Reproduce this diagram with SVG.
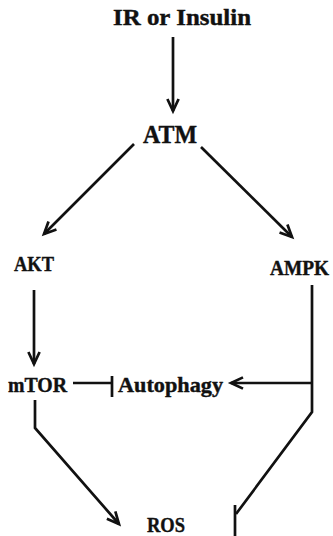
<svg xmlns="http://www.w3.org/2000/svg" width="333" height="536" viewBox="0 0 333 536">
<style>
text{font-family:"Liberation Serif","Times New Roman",serif;font-weight:bold;fill:#111;stroke:#111;stroke-width:0.4;}
.c{fill:none;stroke:#111;stroke-width:2.7;stroke-linejoin:miter;}
</style>
<defs>
<marker id="arr" markerUnits="userSpaceOnUse" markerWidth="20" markerHeight="20" viewBox="-14 -10 20 20" refX="0" refY="0" orient="auto" overflow="visible">
<path d="M-12,-5.6 L0,0 L-12,5.6" fill="none" stroke="#111" stroke-width="2.7"/>
</marker>
</defs>
<rect width="333" height="536" fill="#fff"/>
<g id="n-ir"><text x="113" y="25" font-size="23" textLength="138" lengthAdjust="spacingAndGlyphs">IR or Insulin</text></g>
<g id="n-atm"><text x="143" y="143" font-size="25" textLength="54" lengthAdjust="spacingAndGlyphs">ATM</text></g>
<g id="n-akt"><text x="14" y="271" font-size="21" textLength="40" lengthAdjust="spacingAndGlyphs">AKT</text></g>
<g id="n-ampk"><text x="270" y="275" font-size="21" textLength="59" lengthAdjust="spacingAndGlyphs">AMPK</text></g>
<g id="n-mtor"><text x="8" y="392" font-size="21" textLength="59" lengthAdjust="spacingAndGlyphs">mTOR</text></g>
<g id="n-autophagy"><text x="118" y="392" font-size="21" textLength="105" lengthAdjust="spacingAndGlyphs">Autophagy</text></g>
<g id="n-ros"><text x="147" y="532" font-size="21" textLength="38" lengthAdjust="spacingAndGlyphs">ROS</text></g>
<g id="connectors">
<path class="c" d="M173,37 L173,111" marker-end="url(#arr)"/>
<path class="c" d="M134,144 L44,234" marker-end="url(#arr)"/>
<path class="c" d="M201,147 L292,237" marker-end="url(#arr)"/>
<path class="c" d="M34,290 L34,364" marker-end="url(#arr)"/>
<path class="c" d="M312,285 L312,412 L236,514"/>
<path class="c" d="M235,505 L235,536"/>
<path class="c" d="M312,383 L231,383" marker-end="url(#arr)"/>
<path class="c" d="M73,383 L112,383 M112,376 L112,397"/>
<path class="c" d="M35,400 L35,428 L119,524" marker-end="url(#arr)"/>
</g>
</svg>
